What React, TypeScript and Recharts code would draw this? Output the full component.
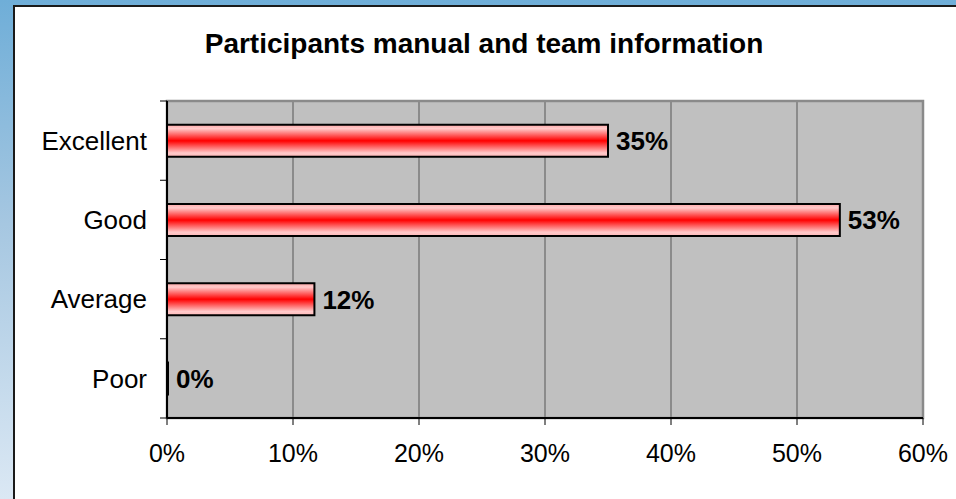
import React from 'react';
import {
  BarChart,
  Bar,
  XAxis,
  YAxis,
  CartesianGrid,
  LabelList,
  ReferenceArea,
} from 'recharts';

const categories = ['Excellent', 'Good', 'Average', 'Poor'];
const values = [35, 53.4, 11.7, 0];
const xTicks = [0, 10, 20, 30, 40, 50, 60];
const title = 'Participants manual and team information';

const data = categories.map((c, i) => ({ name: c, value: values[i] }));

const FONT = '"Liberation Sans", Arial, Helvetica, sans-serif';
const W = 956;
const H = 499;
const MARGIN = { top: 101, right: 33, bottom: 21, left: 17 };
const Y_WIDTH = 150;
const X_HEIGHT = 60;
const PLOT_LEFT = MARGIN.left + Y_WIDTH;
const BAND = (H - MARGIN.top - MARGIN.bottom - X_HEIGHT) / categories.length;

function CategoryTick(props: any) {
  const { x, y, payload, index } = props;
  return (
    <g>
      <line x1={PLOT_LEFT - 7} x2={PLOT_LEFT} y1={y - BAND / 2} y2={y - BAND / 2} stroke="#000" strokeWidth={1} />
      {index === categories.length - 1 ? (
        <line x1={PLOT_LEFT - 7} x2={PLOT_LEFT} y1={y + BAND / 2} y2={y + BAND / 2} stroke="#000" strokeWidth={1} />
      ) : null}
      <text
        x={x}
        y={y}
        dy="0.355em"
        textAnchor="end"
        fill="#000"
        fontSize={26}
        fontFamily={FONT}
      >
        {payload.value}
      </text>
    </g>
  );
}

export default function App() {
  return (
    <div
      style={{
        position: 'absolute',
        left: 0,
        top: 0,
        width: W,
        height: H,
        overflow: 'hidden',
        background: 'linear-gradient(to bottom, #6faed8 0%, #a6c7e1 45%, #dbe8f4 100%)',
        fontFamily: FONT,
      }}
    >
      <div
        style={{
          position: 'absolute',
          left: 13,
          top: 5,
          width: 1000,
          height: 600,
          background: '#ffffff',
          border: '2px solid #1a1a1a',
        }}
      />
      <div
        style={{
          position: 'absolute',
          left: 0,
          top: 30,
          width: 968,
          textAlign: 'center',
          fontSize: 28,
          lineHeight: '28px',
          fontWeight: 'bold',
          color: '#000',
        }}
      >
        {title}
      </div>
      <div style={{ position: 'absolute', left: 0, top: 0 }}>
        <BarChart
          width={W}
          height={H}
          data={data}
          layout="vertical"
          margin={MARGIN}
          barCategoryGap="30%"
        >
          <defs>
            <linearGradient id="barGrad" x1="0" y1="0" x2="0" y2="1">
              <stop offset="0%" stopColor="#ffa8a8" />
              <stop offset="12%" stopColor="#ffcaca" />
              <stop offset="50%" stopColor="#ff0000" />
              <stop offset="88%" stopColor="#ffcaca" />
              <stop offset="100%" stopColor="#ffb8b8" />
            </linearGradient>
          </defs>
          <CartesianGrid
            horizontal={false}
            vertical={true}
            stroke="#7a7a7a"
            strokeWidth={1.5}
            fill="#c0c0c0"
            fillOpacity={1}
          />
          <ReferenceArea
            x1={0}
            x2={60}
            fill="none"
            stroke="#8a8a8a"
            strokeWidth={2.5}
            ifOverflow="visible"
          />
          <XAxis
            type="number"
            domain={[0, 60]}
            ticks={xTicks}
            interval={0}
            tickFormatter={(v: number) => `${v}%`}
            axisLine={{ stroke: '#000', strokeWidth: 2 }}
            tickLine={{ stroke: '#000', strokeWidth: 1 }}
            tickSize={7}
            tickMargin={19}
            height={X_HEIGHT}
            tick={{ fill: '#000', fontSize: 25, fontFamily: FONT }}
          />
          <YAxis
            type="category"
            dataKey="name"
            orientation="left"
            width={Y_WIDTH}
            axisLine={{ stroke: '#000', strokeWidth: 2 }}
            tickLine={false}
            tickSize={6}
            tickMargin={14}
            tick={<CategoryTick />}
          />
          <Bar
            dataKey="value"
            fill="url(#barGrad)"
            stroke="#000"
            strokeWidth={2}
            minPointSize={1}
            isAnimationActive={false}
          >
            <LabelList
              dataKey="value"
              position="right"
              offset={8}
              formatter={(v: number) => `${Math.round(v)}%`}
              style={{ fill: '#000', fontSize: 26, fontWeight: 'bold', fontFamily: FONT }}
            />
          </Bar>
        </BarChart>
      </div>
    </div>
  );
}
